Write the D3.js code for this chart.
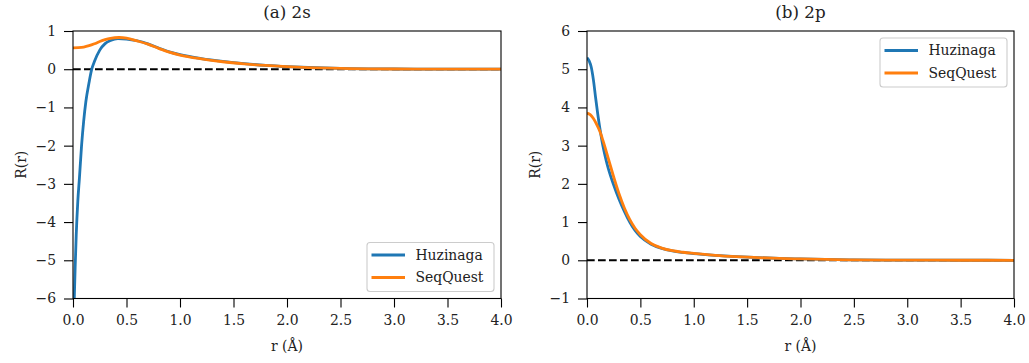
<!DOCTYPE html>
<html>
<head>
<meta charset="utf-8">
<script src="https://cdn.jsdelivr.net/npm/d3@7"></script>
<style>
  html, body { margin: 0; padding: 0; background: #fff; }
  svg { display: block; font-family: "DejaVu Serif", serif; }
</style>
</head>
<body>
<svg id="fig" width="1029" height="363"></svg>
<script>
// Radial functions R(r) for the 2s and 2p orbitals, two basis treatments.
const seriesNames = ["Huzinaga", "SeqQuest"];
const seriesColors = ["#1f77b4", "#ff7f0e"];
const xTicks = [0, 0.5, 1, 1.5, 2, 2.5, 3, 3.5, 4];
const yTicks2s = [-6, -5, -4, -3, -2, -1, 0, 1];
const yTicks2p = [-1, 0, 1, 2, 3, 4, 5, 6];

// 2s, Huzinaga: [r, R]
const huz2s = [
  [0.004, -6.8], [0.012, -6.0], [0.02, -5.2], [0.03, -4.35], [0.045, -3.45],
  [0.06, -2.85], [0.08, -2.0], [0.1, -1.35], [0.12, -0.85], [0.15, -0.35],
  [0.175, 0.0], [0.2, 0.2], [0.25, 0.5], [0.3, 0.67], [0.35, 0.75],
  [0.42, 0.80], [0.5, 0.79], [0.6, 0.745], [0.7, 0.665], [0.8, 0.555],
  [0.9, 0.455], [1.0, 0.38], [1.2, 0.28], [1.4, 0.205], [1.6, 0.145],
  [1.8, 0.1], [2.0, 0.068], [2.2, 0.045], [2.5, 0.022], [3.0, 0.006],
  [3.5, 0.001], [4.0, 0.0]
];
// 2s, SeqQuest
const seq2s = [
  [0.0, 0.56], [0.05, 0.565], [0.1, 0.58], [0.15, 0.615], [0.2, 0.665],
  [0.25, 0.725], [0.3, 0.775], [0.35, 0.81], [0.43, 0.83], [0.5, 0.815],
  [0.6, 0.74], [0.7, 0.655], [0.8, 0.545], [0.9, 0.445], [1.0, 0.37],
  [1.2, 0.27], [1.4, 0.195], [1.6, 0.14], [1.8, 0.098], [2.0, 0.066],
  [2.2, 0.043], [2.5, 0.02], [3.0, 0.005], [3.5, 0.001], [4.0, 0.0]
];
// 2p, Huzinaga
const huz2p = [
  [0.0, 5.3], [0.02, 5.22], [0.04, 5.05], [0.06, 4.72], [0.08, 4.27],
  [0.1, 3.84], [0.12, 3.46], [0.14, 3.13], [0.16, 2.85], [0.18, 2.61],
  [0.2, 2.4], [0.25, 1.97], [0.3, 1.6], [0.35, 1.28], [0.4, 1.0],
  [0.45, 0.78], [0.5, 0.62], [0.6, 0.42], [0.7, 0.31], [0.8, 0.245],
  [0.9, 0.205], [1.0, 0.175], [1.2, 0.13], [1.4, 0.095], [1.6, 0.07],
  [1.8, 0.05], [2.0, 0.035], [2.5, 0.012], [3.0, 0.004], [3.5, 0.001],
  [4.0, 0.0]
];
// 2p, SeqQuest
const seq2p = [
  [0.0, 3.85], [0.03, 3.81], [0.06, 3.71], [0.09, 3.56], [0.12, 3.38],
  [0.15, 3.13], [0.2, 2.66], [0.25, 2.18], [0.3, 1.74], [0.35, 1.37],
  [0.4, 1.07], [0.45, 0.84], [0.5, 0.67], [0.6, 0.44], [0.7, 0.32],
  [0.8, 0.25], [0.9, 0.21], [1.0, 0.18], [1.2, 0.13], [1.4, 0.095],
  [1.6, 0.07], [1.8, 0.05], [2.0, 0.035], [2.5, 0.012], [3.0, 0.004],
  [3.5, 0.001], [4.0, 0.0]
];

const svg = d3.select("#fig");
const plotTop = 31, plotBottom = 298.5;

const panels = [
  { id: "a", title: "(a) 2s", left: 73, right: 501, yDomain: [-6, 1], yTicks: yTicks2s,
    data: [huz2s, seq2s], legend: "lower" },
  { id: "b", title: "(b) 2p", left: 587, right: 1014, yDomain: [-1, 6], yTicks: yTicks2p,
    data: [huz2p, seq2p], legend: "upper" }
];

panels.forEach(p => {
  const x = d3.scaleLinear().domain([0, 4]).range([p.left, p.right]);
  const y = d3.scaleLinear().domain(p.yDomain).range([plotBottom, plotTop]);
  const g = svg.append("g");

  g.append("clipPath").attr("id", "clip-" + p.id)
    .append("rect").attr("x", p.left).attr("y", plotTop)
    .attr("width", p.right - p.left).attr("height", plotBottom - plotTop);

  const plot = g.append("g").attr("clip-path", `url(#clip-${p.id})`);

  // zero reference line
  plot.append("line")
    .attr("x1", x(0)).attr("x2", x(4))
    .attr("y1", y(0)).attr("y2", y(0))
    .attr("stroke", "#000").attr("stroke-width", 2.1)
    .attr("stroke-dasharray", "7.7,3.3");

  const line = d3.line().x(d => x(d[0])).y(d => y(d[1])).curve(d3.curveMonotoneX);
  p.data.forEach((series, i) => {
    plot.append("path").datum(series)
      .attr("d", line)
      .attr("fill", "none")
      .attr("stroke", seriesColors[i])
      .attr("stroke-width", 2.8)
      .attr("stroke-linejoin", "round")
      .attr("stroke-linecap", "butt");
  });

  // axes
  const xAxis = d3.axisBottom(x).tickValues(xTicks).tickFormat(d3.format(".1f"))
    .tickSize(9).tickPadding(8);
  const yAxis = d3.axisLeft(y).tickValues(p.yTicks).tickFormat(d3.format("d"))
    .tickSize(9).tickPadding(8);

  const gx = g.append("g").attr("transform", `translate(0,${plotBottom})`).call(xAxis);
  const gy = g.append("g").attr("transform", `translate(${p.left},0)`).call(yAxis);
  [gx, gy].forEach(a => {
    a.select(".domain").remove();
    a.selectAll(".tick line").attr("stroke", "#000").attr("stroke-width", 1.1);
    a.selectAll(".tick text").attr("fill", "#222").style("font-size", "13.9px")
      .style("font-family", "'DejaVu Serif', serif");
  });

  // frame
  g.append("rect")
    .attr("x", p.left).attr("y", plotTop)
    .attr("width", p.right - p.left).attr("height", plotBottom - plotTop)
    .attr("fill", "none").attr("stroke", "#000").attr("stroke-width", 1.1);

  const cx = (p.left + p.right) / 2;
  g.append("text").attr("x", cx).attr("y", 18).attr("text-anchor", "middle")
    .style("font-size", "16.7px").attr("fill", "#222").text(p.title);
  g.append("text").attr("x", cx).attr("y", 351).attr("text-anchor", "middle")
    .style("font-size", "13.9px").attr("fill", "#222").text("r (Å)");
  g.append("text")
    .attr("transform", `translate(${p.left - 47},${(plotTop + plotBottom) / 2}) rotate(-90)`)
    .attr("text-anchor", "middle")
    .style("font-size", "13.9px").attr("fill", "#222").text("R(r)");

  // legend
  const lw = 127, lh = 49;
  const lx = p.right - 7 - lw;
  const ly = p.legend === "lower" ? plotBottom - 7 - lh : plotTop + 7;
  const leg = g.append("g");
  leg.append("rect").attr("x", lx).attr("y", ly).attr("width", lw).attr("height", lh)
    .attr("rx", 3).attr("fill", "#fff").attr("fill-opacity", 0.8)
    .attr("stroke", "#cccccc").attr("stroke-width", 1.1);
  seriesNames.forEach((name, i) => {
    const yy = ly + 12.5 + i * 22.5;
    leg.append("line").attr("x1", lx + 4.5).attr("x2", lx + 38)
      .attr("y1", yy).attr("y2", yy)
      .attr("stroke", seriesColors[i]).attr("stroke-width", 2.8);
    leg.append("text").attr("x", lx + 48.5).attr("y", yy).attr("dy", "0.35em")
      .style("font-size", "13.9px").attr("fill", "#222").text(name);
  });
});
</script>
</body>
</html>
